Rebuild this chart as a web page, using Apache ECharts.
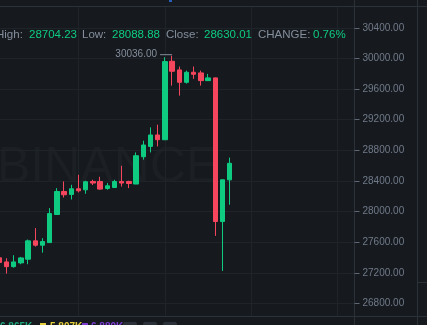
<!DOCTYPE html>
<html><head><meta charset="utf-8">
<script src="https://cdn.jsdelivr.net/npm/echarts/dist/echarts.min.js"></script>
<style>html,body{margin:0;padding:0;background:#161a1e;overflow:hidden}#c{width:427px;height:325px}</style>
</head><body><div id="c"></div>
<script>
// ---- data ----
const opens  = [27395, 27342, 27280, 27329, 27377, 27617, 27560, 27594, 27961, 28262, 28223, 28297, 28284, 28393, 28393, 28301, 28314, 28393, 28393, 28359, 28716, 28851, 29000, 28938, 29963, 29850, 29688, 29819, 29811, 29710, 29746, 27869, 28414.05];
const highs  = [27430, 27390, 27429, 27407, 27634, 27783, 27652, 28045, 28306, 28393, 28349, 28480, 28402, 28415, 28454, 28372, 28415, 28598, 28402, 28772, 28925, 29099, 29135, 30015, 30036.00, 29894, 29841, 29894, 29841, 29798, 29750, 28415, 28704.23];
const lows   = [27300, 27189, 27267, 27312, 27312, 27542, 27463, 27594, 27961, 28183, 28157, 28249, 28232, 28346, 28284, 28284, 28314, 28327, 28306, 28359, 28677, 28772, 28851, 28938, 29645, 29514, 29671, 29733, 29645, 29710, 27682, 27224, 28088.88];
const closes = [27335, 27280, 27342, 27394, 27617, 27560, 27608, 27974, 28262, 28219, 28297, 28271, 28389, 28372, 28293, 28336, 28393, 28372, 28366, 28729, 28869, 29000, 28938, 29959, 29832, 29688, 29819, 29793, 29710, 29746, 27869, 28415, 28630.01];
const categories = opens.map((_, i) => i);          // candle slots
const gridSlots = [11, 23, 35, 47];                 // vertical time gridlines
const yMin = 26400, yMax = 30800, yStep = 400;      // price axis ticks
const volTexts = ['6.865K', '5.807K', '6.889K'];    // indicator strip (cut off)

const last = closes.length - 1;
const lastO = opens[last], lastH = highs[last], lastL = lows[last], lastC = closes[last];
const change = (lastC - lastO) / lastO * 100;
const maxHigh = Math.max(...highs);
const maxIdx = highs.indexOf(maxHigh);
const rows = categories.map((c, i) => [c, opens[i], closes[i], lows[i], highs[i]]);

const UP = '#0ecb81', DOWN = '#f6465d', GRID = '#1f242a', FRAME = '#2b3139', LBL = '#848e9c';
const FONT = 'Liberation Sans, Arial, sans-serif';

const chart = echarts.init(document.getElementById('c'), null, {renderer: 'canvas'});
const txt = (x, y, s, color, size, extra) => Object.assign({
  type: 'text', x: x, y: y, z: 20,
  style: {text: s, fill: color, font: (size || 11.5) + 'px ' + FONT, textVerticalAlign: 'middle', textAlign: 'left'}
}, extra || {});

chart.setOption({
  backgroundColor: '#161a1e',
  animation: false,
  grid: {left: 0, right: 72.5, top: -2.8, bottom: -9, containLabel: false, outerBoundsMode: 'none'},
  xAxis: {type: 'value', min: 0.1, max: 49.34, show: false, splitLine: {show: false}},
  yAxis: {
    type: 'value', position: 'right', min: yMin, max: yMax, interval: yStep, scale: true,
    axisLine: {show: true, lineStyle: {color: FRAME}},
    axisTick: {show: true, length: 5, lineStyle: {color: '#5e6673'}},
    axisLabel: {color: '#707a8a', fontSize: 10, fontFamily: FONT, margin: 8,
      showMinLabel: false, showMaxLabel: false, formatter: v => v.toFixed(2)},
    splitLine: {show: true, lineStyle: {color: GRID, width: 1}}
  },
  series: [
    {
      type: 'line', data: [], z: 1, silent: true,
      markLine: {
        z: 1, silent: true, symbol: ['none', 'none'], label: {show: false},
        lineStyle: {color: GRID, width: 1, type: 'solid'},
        data: gridSlots.map(s => [{coord: [s, 30672]}, {coord: [s, 26635]}])
      }
    },
    {
      type: 'candlestick', z: 3,
      data: rows,
      encode: {x: 0, y: [1, 2, 3, 4]},
      barWidth: 5,
      itemStyle: {color: UP, color0: DOWN, borderColor: UP, borderColor0: DOWN, borderWidth: 1},
      markPoint: {
        silent: true, symbol: 'rect', symbolSize: [12, 1], symbolOffset: [-6, -1],
        itemStyle: {color: LBL},
        label: {show: true, position: 'left', distance: 3, color: LBL, fontSize: 10, fontFamily: FONT,
          formatter: p => p.value.toFixed(2)},
        data: [{coord: [maxIdx, maxHigh], value: maxHigh}]
      },
      markLine: {
        z: 6, silent: true, symbol: ['none', 'none'],
        lineStyle: {opacity: 0},
        label: {show: true, position: 'end', distance: 1, formatter: () => lastC.toFixed(2),
          backgroundColor: UP, color: '#ffffff', fontWeight: 'bold', fontSize: 11, fontFamily: FONT, padding: [4, 8]},
        data: [{yAxis: lastC}]
      }
    }
  ],
  graphic: [
    {type: 'text', x: -3, y: 143, z: 0, silent: true,
      style: {text: 'BINANCE', fill: '#1c2025', font: '50px ' + FONT, textVerticalAlign: 'top'}},
    {type: 'line', z: 20, shape: {x1: 0, y1: 6.5, x2: 427, y2: 6.5}, style: {stroke: FRAME, lineWidth: 1}},
    {type: 'line', z: 20, shape: {x1: 0, y1: 316.5, x2: 427, y2: 316.5}, style: {stroke: FRAME, lineWidth: 1}},
    {type: 'line', z: 20, shape: {x1: 417.5, y1: 0, x2: 417.5, y2: 325}, style: {stroke: FRAME, lineWidth: 1}},
    {type: 'line', z: 20, shape: {x1: 417, y1: 282.5, x2: 427, y2: 282.5}, style: {stroke: FRAME, lineWidth: 1}},
    {type: 'rect', z: 20, shape: {x: 169, y: 0, width: 3, height: 2}, style: {fill: '#2a5fb8'}},
    txt(-4, 34.5, 'High:', LBL),
    txt(29, 34.5, lastH.toFixed(2), UP),
    txt(82, 34.5, 'Low:', LBL),
    txt(112, 34.5, lastL.toFixed(2), UP),
    txt(166, 34.5, 'Close:', LBL),
    txt(204, 34.5, lastC.toFixed(2), UP),
    txt(258, 34.5, 'CHANGE:', LBL),
    txt(313, 34.5, change.toFixed(2) + '%', UP),
    {type: 'text', x: 0, y: 322.5, z: 20, style: {text: volTexts[0], fill: '#1fa77c', font: 'bold 10px ' + FONT, textVerticalAlign: 'top'}},
    {type: 'rect', z: 20, shape: {x: 40, y: 323, width: 6, height: 6}, style: {fill: '#e4cf3a'}},
    {type: 'text', x: 50, y: 322.5, z: 20, style: {text: volTexts[1], fill: '#e4cf3a', font: 'bold 10px ' + FONT, textVerticalAlign: 'top'}},
    {type: 'rect', z: 20, shape: {x: 82, y: 323, width: 6, height: 6}, style: {fill: '#7c3bd0'}},
    {type: 'text', x: 91, y: 322.5, z: 20, style: {text: volTexts[2], fill: '#7c3bd0', font: 'bold 10px ' + FONT, textVerticalAlign: 'top'}},
    {type: 'rect', z: 20, shape: {x: 123, y: 322, width: 14, height: 10, r: 2}, style: {fill: FRAME}},
    {type: 'rect', z: 20, shape: {x: 143, y: 322, width: 14, height: 10, r: 2}, style: {fill: FRAME}},
    {type: 'rect', z: 20, shape: {x: 163, y: 322, width: 14, height: 10, r: 2}, style: {fill: FRAME}}
  ]
});
</script>
</body></html>
